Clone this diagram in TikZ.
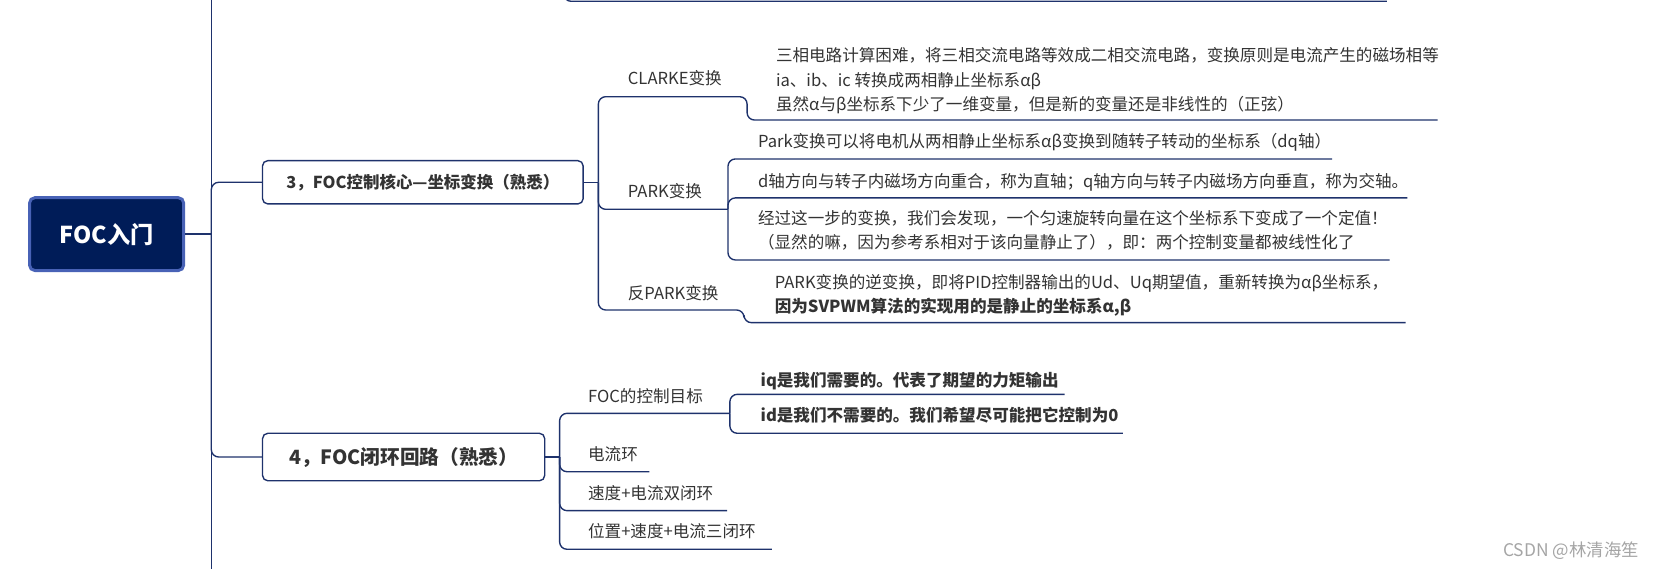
\documentclass[tikz,border=0pt]{standalone}
\usepackage{fontspec}
\setmainfont{Noto Sans CJK SC}
\definecolor{lc}{RGB}{30,50,108}
\definecolor{tc}{RGB}{51,51,51}
\definecolor{rootfill}{RGB}{0,28,88}
\definecolor{rootborder}{RGB}{72,98,182}
\definecolor{wm}{RGB}{165,165,165}
\begin{document}
\begin{tikzpicture}[x=1pt,y=-1pt,
  conn/.style={draw=lc, line width=1.3pt, rounded corners=7pt},
  txt/.style={anchor=base west, inner sep=0pt, text=tc, font=\fontsize{15.7}{23}\selectfont},
  btxt/.style={anchor=base west, inner sep=0pt, text=tc, font=\fontsize{15.7}{23}\selectfont\bfseries},
  topbox/.style={draw=lc, line width=1.3pt, fill=white, rounded corners=5pt, inner sep=0pt, text=tc},
  rootbox/.style={draw=rootborder, line width=2.8pt, fill=rootfill, rounded corners=5pt, inner sep=0pt, text=white,
    font=\fontsize{22}{26}\selectfont\bfseries}
]
\useasboundingbox (0,0) rectangle (1568,539);
\clip (0,0) rectangle (1568,539);

% ---------- nodes ----------
\node[rootbox, minimum width=146pt, minimum height=69pt] (root) at (101,221.8) {FOC入门};
\node[topbox, minimum width=303.8pt, minimum height=41pt, font=\fontsize{15.6}{18}\selectfont\bfseries] (b3) at (400.6,172.7) {3，FOC控制核心—坐标变换（熟悉）};
\node[topbox, minimum width=267.3pt, minimum height=45pt, font=\fontsize{18.6}{22}\selectfont\bfseries] (b4) at (382.4,433) {4，FOC闭环回路（熟悉）};

\node[txt] (clarke) at (594.7,79.6) {CLARKE变换};
\node[txt] (cl1) at (735,58) {三相电路计算困难，将三相交流电路等效成二相交流电路，变换原则是电流产生的磁场相等};
\node[txt] (cl2) at (735,81.6) {ia、ib、ic 转换成两相静止坐标系αβ};
\node[txt] (cl3) at (735,104.6) {虽然α与β坐标系下少了一维变量，但是新的变量还是非线性的（正弦）};

\node[txt] (park) at (594.7,187) {PARK变换};
\node[txt] (pk1) at (718,140.2) {Park变换可以将电机从两相静止坐标系αβ变换到随转子转动的坐标系（dq轴）};
\node[txt] (pk2) at (718,178.1) {d轴方向与转子内磁场方向重合，称为直轴；q轴方向与转子内磁场方向垂直，称为交轴。};
\node[txt] (pk3a) at (718,212.9) {经过这一步的变换，我们会发现，一个匀速旋转向量在这个坐标系下变成了一个定值！};
\node[txt] (pk3b) at (718,235) {（显然的嘛，因为参考系相对于该向量静止了），即：两个控制变量都被线性化了};

\node[txt] (ipark) at (594.7,283.9) {反PARK变换};
\node[txt] (ip1) at (733.9,273.5) {PARK变换的逆变换，即将PID控制器输出的Ud、Uq期望值，重新转换为αβ坐标系，};
\node[btxt] (ip2) at (733.9,296.5) {因为SVPWM算法的实现用的是静止的坐标系α,β};

\node[txt] (goal) at (557,381.8) {FOC的控制目标};
\node[btxt] (iq) at (720.5,366) {iq是我们需要的。代表了期望的力矩输出};
\node[btxt] (id) at (720.5,399.8) {id是我们不需要的。我们希望尽可能把它控制为0};
\node[txt] (cur) at (557,436.4) {电流环};
\node[txt] (spd) at (557,473.4) {速度+电流双闭环};
\node[txt] (pos) at (557,509.7) {位置+速度+电流三闭环};

\node[anchor=base west, inner sep=0pt, text=wm, font=\fontsize{16.5}{19}\selectfont] (wmark) at (1424,527) {CSDN @林清海笙};

% ---------- coordinates ----------
\coordinate (trunk) at (200.2,221.8);
\coordinate (trunkTop) at (200.2,-10);
\coordinate (trunkBot) at (200.2,549);
\coordinate (prevV) at (534,-10);
\coordinate (prevC) at (534,1.2);
\coordinate (prevE) at (1314,1.2);

\coordinate (j3) at (566.9,172.7);
\coordinate (clU) at (566.9,91.6);
\coordinate (clE) at (707.8,91.6);
\coordinate (clC) at (707.8,113.7);
\coordinate (clCE) at (1362,113.7);

\coordinate (pkU) at (566.9,198.3);
\coordinate (pkE) at (689.7,198.3);
\coordinate (pk1C) at (689.7,150.6);
\coordinate (pk1E) at (1262,150.6);
\coordinate (pk2C) at (689.7,187.5);
\coordinate (pk2E) at (1333.3,187.5);
\coordinate (pk3C) at (689.7,246.3);
\coordinate (pk3E) at (1316.6,246.3);

\coordinate (ipU) at (566.9,293.7);
\coordinate (ipE) at (704.9,293.7);
\coordinate (ipC) at (704.9,305.7);
\coordinate (ipCE) at (1331.6,305.7);

\coordinate (j4) at (530.2,433);
\coordinate (goU) at (530.2,391.6);
\coordinate (goE) at (691.5,391.6);
\coordinate (iqC) at (691.5,373.6);
\coordinate (iqE) at (1008.7,373.6);
\coordinate (idC) at (691.5,410.5);
\coordinate (idE) at (1063.9,410.5);
\coordinate (cuU) at (530.2,446.9);
\coordinate (cuE) at (615.3,446.9);
\coordinate (spU) at (530.2,483.8);
\coordinate (spE) at (689,483.8);
\coordinate (poU) at (530.2,520.4);
\coordinate (poE) at (731.4,520.4);

% ---------- connectors ----------
\draw[conn] (trunkTop) -- (trunkBot);
\draw[conn] (prevV) -- (prevC) -- (prevE);
\draw[conn] (root.east) -- (trunk);
\draw[conn] (trunk) -- (trunk |- b3.west) -- (b3.west);
\draw[conn] (trunk) -- (trunk |- b4.west) -- (b4.west);

\draw[conn] (b3.east) -- (j3);
\draw[conn] (j3) -- (clU) -- (clE) -- (clC) -- (clCE);
\draw[conn] (j3) -- (pkU) -- (pkE);
\draw[conn] (pkE) -- (pk1C) -- (pk1E);
\draw[conn] (pkE) -- (pk2C) -- (pk2E);
\draw[conn] (pkE) -- (pk3C) -- (pk3E);
\draw[conn] (j3) -- (ipU) -- (ipE) -- (ipC) -- (ipCE);

\draw[conn] (b4.east) -- (j4);
\draw[conn] (j4) -- (goU) -- (goE);
\draw[conn] (goE) -- (iqC) -- (iqE);
\draw[conn] (goE) -- (idC) -- (idE);
\draw[conn] (j4) -- (cuU) -- (cuE);
\draw[conn] (j4) -- (spU) -- (spE);
\draw[conn] (j4) -- (poU) -- (poE);
\end{tikzpicture}
\end{document}
